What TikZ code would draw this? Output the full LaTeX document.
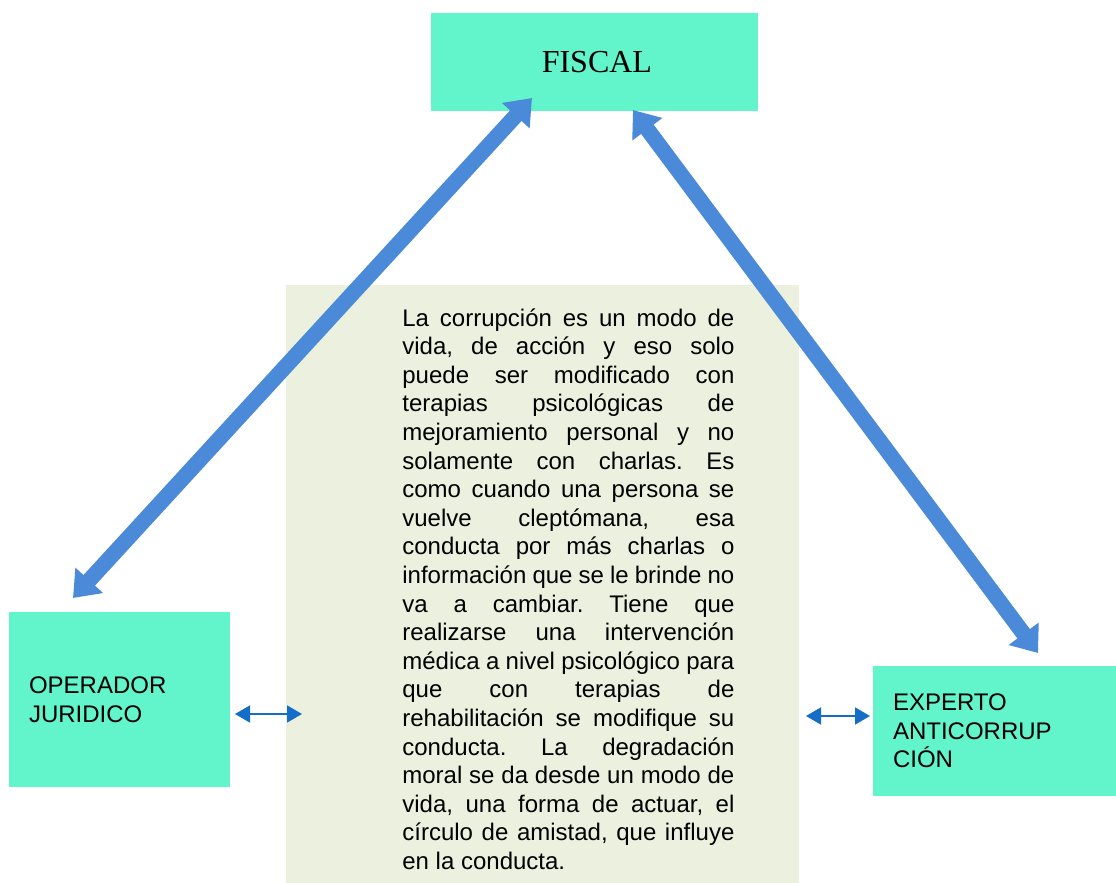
\documentclass[tikz,border=0pt]{standalone}
\usepackage{fontspec}
\setmainfont{Liberation Sans}
\newfontfamily\romanfont{Liberation Serif}
\usetikzlibrary{arrows.meta}
\definecolor{turq}{RGB}{98,245,204}
\definecolor{paleg}{RGB}{235,241,222}
\definecolor{bigblue}{RGB}{74,138,216}
\definecolor{smallblue}{RGB}{20,110,200}
\newcommand{\jline}[1]{\makebox[166pt][s]{#1}}
\frenchspacing

\begin{document}
\begin{tikzpicture}[x=0.5pt,y=-0.5pt,
  actor/.style={fill=turq,inner ysep=0pt,outer sep=0pt,align=left,
    font=\fontsize{12}{14.3}\selectfont},
  bigarrow/.style={line width=7.8pt,color=bigblue,
    {Triangle[width=18pt,length=12pt]}-{Triangle[width=18pt,length=12pt]}},
  smallarrow/.style={line width=0.8pt,color=smallblue,
    {Triangle[width=8.5pt,length=7.5pt]}-{Triangle[width=8.5pt,length=7.5pt]}}]
\useasboundingbox (0,0) rectangle (1116,883);
% boxes
\node[anchor=north west,fill=turq,inner sep=0pt,minimum width=163.5pt,minimum height=49pt,
  font=\romanfont\fontsize{16}{19}\selectfont] (fiscal) at (431,13) {\hspace*{2pt}FISCAL};
\node[actor,anchor=north west,inner xsep=10pt,text width=90.5pt,minimum height=87.5pt] (operador) at (9,612)
  {OPERADOR\\JURIDICO};
\node[actor,anchor=north west,inner xsep=10pt,text width=101.5pt,minimum height=65pt] (experto) at (873,666)
  {EXPERTO\\ANTICORRUP\\CIÓN};
\node[anchor=north west,fill=paleg,inner sep=0pt,minimum width=256.5pt,minimum height=299pt] (marco) at (286,285) {};
\node[anchor=north west,inner sep=0pt,align=left,font=\fontsize{12}{14.3}\selectfont] (texto) at (402,308) {%
\jline{La corrupción es un modo de}\\
\jline{vida, de acción y eso solo}\\
\jline{puede ser modificado con}\\
\jline{terapias psicológicas de}\\
\jline{mejoramiento personal y no}\\
\jline{solamente con charlas. Es}\\
\jline{como cuando una persona se}\\
\jline{vuelve cleptómana, esa}\\
\jline{conducta por más charlas o}\\
\jline{información que se le brinde no}\\
\jline{va a cambiar. Tiene que}\\
\jline{realizarse una intervención}\\
\jline{médica a nivel psicológico para}\\
\jline{que con terapias de}\\
\jline{rehabilitación se modifique su}\\
\jline{conducta. La degradación}\\
\jline{moral se da desde un modo de}\\
\jline{vida, una forma de actuar, el}\\
\jline{círculo de amistad, que influye}\\
en la conducta.};
% arrow ends
\coordinate (fiscalL) at (532,98);
\coordinate (fiscalR) at (633,110);
\coordinate (operadorT) at (73,598);
\coordinate (expertoT) at (1038,653);
\coordinate (operadorE) at (235,714);
\coordinate (marcoW) at (302,714);
\coordinate (marcoE) at (806,716);
\coordinate (expertoW) at (870,716);
\draw[bigarrow] (operadorT) -- (fiscalL);
\draw[bigarrow] (expertoT) -- (fiscalR);
\draw[smallarrow] (operadorE) -- (marcoW);
\draw[smallarrow] (marcoE) -- (expertoW);
\end{tikzpicture}
\end{document}
